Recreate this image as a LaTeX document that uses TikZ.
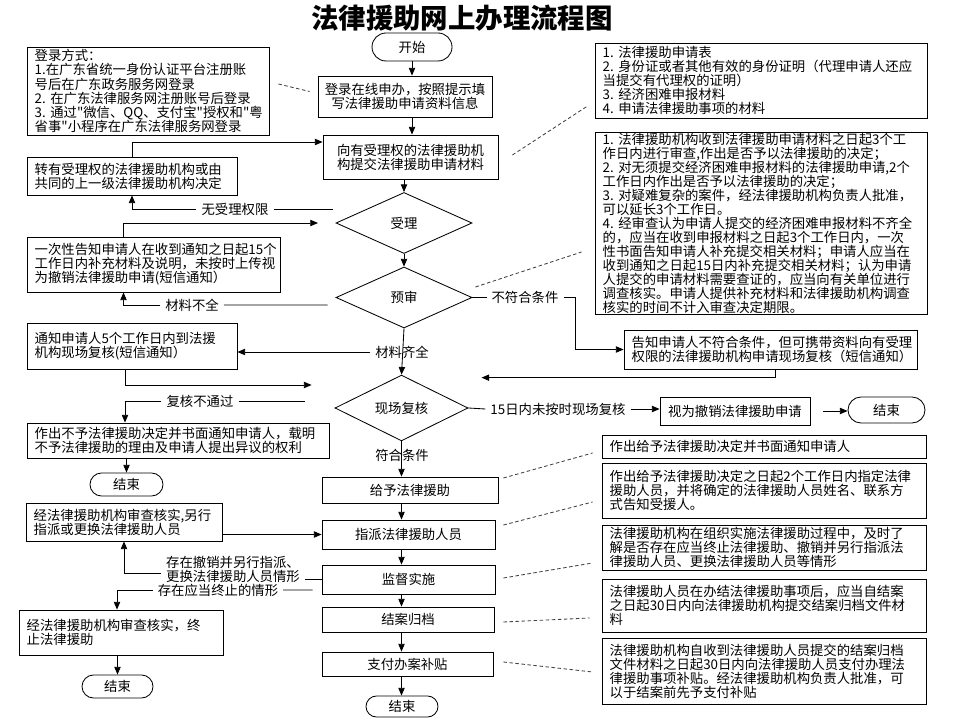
\documentclass[tikz,border=0pt]{standalone}
\usepackage{fontspec}
\setmainfont{Noto Sans CJK SC}[Ligatures=TeXOff]
\usetikzlibrary{arrows.meta,shapes.geometric,shapes.misc,calc}
\newcommand\pxu{0.025cm}
\newcommand\bodysize{\fontsize{9.5pt}{10pt}\selectfont}
\begin{document}
\begin{tikzpicture}[x=0.025cm,y=-0.025cm,line width=0.6pt,font=\bodysize,
  lbox/.style 2 args={draw,align=left,inner xsep=5.5pt,inner ysep=0pt,text width={#1*\pxu-11pt},minimum width={#1*\pxu},minimum height={#2*\pxu}},
  cbox/.style 2 args={draw,align=center,inner sep=0pt,minimum width={#1*\pxu},minimum height={#2*\pxu}},
  oval/.style 2 args={draw,rounded rectangle,inner sep=0pt,minimum width={#1*\pxu},minimum height={#2*\pxu}},
  dia/.style 2 args={draw,diamond,inner sep=0pt,minimum width={#1*\pxu},minimum height={#2*\pxu}},
  arr/.style={-{Triangle[length=5.5pt,width=4.5pt]}},
  dsh/.style={dash pattern=on 2.5pt off 1.8pt,black!75}]
\useasboundingbox (0,0) rectangle (960,720);
\node[font=\fontsize{19.5pt}{20pt}\selectfont\bfseries] (title) at (462,18) {法律援助网上办理流程图};
\node[oval={80}{28}] (ks) at (412,47) {开始};
\node[cbox={174}{41}] (dl) at (405,96.5) {登录在线申办，按照提示填\\写法律援助申请资料信息};
\node[cbox={175}{44}] (tj) at (410.5,157) {向有受理权的法律援助机\\构提交法律援助申请材料};
\node[dia={136}{61}] (sl) at (404,223) {受理};
\node[dia={136}{61}] (ys) at (404,297.5) {预审};
\node[dia={133}{60}] (fh) at (401.5,408) {现场复核};
\node[cbox={176}{26}] (gy) at (410,490) {给予法律援助};
\node[cbox={173}{29}] (zp) at (408.5,534.5) {指派法律援助人员};
\node[cbox={173}{29}] (jd) at (408.5,579.5) {监督实施};
\node[cbox={172}{25}] (ja) at (408,619.5) {结案归档};
\node[cbox={171}{24}] (zf) at (407.5,664) {支付办案补贴};
\node[oval={72}{21}] (js1) at (402,706.5) {结束};
\node[lbox={242}{88}] (dlfs) at (148,91) {登录方式：\\
1.在广东省统一身份认证平台注册账\\
号后在广东政务服务网登录\\
2.~在广东法律服务网注册账号后登录\\
3.~通过"微信、QQ、支付宝"授权和"粤\\
省事"小程序在广东法律服务网登录};
\node[lbox={210}{38}] (zy) at (132,176) {转有受理权的法律援助机构或由\\共同的上一级法律援助机构决定};
\node[lbox={253}{55}] (yc) at (153.5,264.5) {一次性告知申请人在收到通知之日起15个\\工作日内补充材料及说明，未按时上传视\\为撤销法律援助申请(短信通知）};
\node[lbox={210}{46}] (tz) at (132,346) {通知申请人5个工作日内到法援\\机构现场复核(短信通知）};
\node[lbox={302}{35}] (bz) at (178,440.5) {作出不予法律援助决定并书面通知申请人，载明\\不予法律援助的理由及申请人提出异议的权利};
\node[oval={73}{23}] (js2) at (126.5,484.5) {结束};
\node[lbox={196}{38}] (lx) at (124,522) {经法律援助机构审查核实,另行\\指派或更换法律援助人员};
\node[lbox={204}{45}] (zz) at (121,632.5) {经法律援助机构审查核实，终\\止法律援助};
\node[oval={71}{23}] (js3) at (117.5,686.5) {结束};
\node[lbox={332}{75}] (cl) at (761,80.5) {1.~法律援助申请表\\
2.~身份证或者其他有效的身份证明（代理申请人还应\\
当提交有代理权的证明）\\
3.~经济困难申报材料\\
4.~申请法律援助事项的材料};
\node[lbox={332}{181}] (sc) at (761,223.5) {1.~法律援助机构收到法律援助申请材料之日起3个工\\
作日内进行审查,作出是否予以法律援助的决定；\\
2.~对无须提交经济困难申报材料的法律援助申请,2个\\
工作日内作出是否予以法律援助的决定；\\
3.~对疑难复杂的案件，经法律援助机构负责人批准，\\
可以延长3个工作日。\\
4.~经审查认为申请人提交的经济困难申报材料不齐全\\
的，应当在收到申报材料之日起3个工作日内，一次\\
性书面告知申请人补充提交相关材料；申请人应当在\\
收到通知之日起15日内补充提交相关材料；认为申请\\
人提交的申请材料需要查证的，应当向有关单位进行\\
调查核实。申请人提供补充材料和法律援助机构调查\\
核实的时间不计入审查决定期限。};
\node[lbox={293}{39}] (bf) at (770.5,349.5) {告知申请人不符合条件，但可携带资料向有受理\\权限的法律援助机构申请现场复核（短信通知）};
\node[cbox={150}{28}] (cx) at (735,411) {视为撤销法律援助申请};
\node[oval={77}{26}] (js4) at (886.5,410) {结束};
\node[lbox={324}{23}] (sm1) at (764,446.5) {作出给予法律援助决定并书面通知申请人};
\node[lbox={324}{55}] (sm2) at (764,490.5) {作出给予法律援助决定之日起2个工作日内指定法律\\援助人员，并将确定的法律援助人员姓名、联系方\\式告知受援人。};
\node[lbox={324}{45}] (sm3) at (764,547.5) {法律援助机构在组织实施法律援助过程中，及时了\\解是否存在应当终止法律援助、撤销并另行指派法\\律援助人员、更换法律援助人员等情形};
\node[lbox={324}{53}] (sm4) at (764,605.5) {法律援助人员在办结法律援助事项后，应当自结案\\之日起30日内向法律援助机构提交结案归档文件材\\料};
\node[lbox={324}{66}] (sm5) at (764,671) {法律援助机构自收到法律援助人员提交的结案归档\\文件材料之日起30日内向法律援助人员支付办理法\\律援助事项补贴。经法律援助机构负责人批准，可\\以于结案前先予支付补贴};
\node (clqq) at (402,352) {材料齐全};
\node (fhtj) at (402,455) {符合条件};
\node (wsl) at (235,209) {无受理权限};
\node (clbq) at (192,305) {材料不全};
\node (bfh) at (525,297.5) {不符合条件};
\node (fhbtg) at (200,401) {复核不通过};
\node (wfh) at (558,409) {15日内未按时现场复核};
\node[align=left] (cxqx) at (233,569.5) {存在撤销并另行指派、\\更换法律援助人员情形};
\node (zzqx) at (218,590) {存在应当终止的情形};
\draw[arr] (ks.south) -- (ks.south |- dl.north);
\draw[arr] (ks.south |- dl.south) -- (ks.south |- tj.north);
\draw[arr] (sl.north |- tj.south) -- (sl.north);
\draw[arr] (sl.south) -- (ys.north);
\draw[arr] (ys.south) -- (fh.north);
\draw[arr] (fh.south) -- (fh.south |- gy.north);
\draw[arr] (fh.south |- gy.south) -- (fh.south |- zp.north);
\draw[arr] (fh.south |- zp.south) -- (fh.south |- jd.north);
\draw[arr] (fh.south |- jd.south) -- (fh.south |- ja.north);
\draw[arr] (fh.south |- ja.south) -- (fh.south |- zf.north);
\draw[arr] (fh.south |- zf.south) -- (fh.south |- js1.north);
\draw[arr] (zy.north) |- ($(tj.west)+(0,-15)$);
\draw ($(sl.west)+(-3,-14)$) -- (wsl.east);
\draw[arr] (wsl.west) -| (zy.south);
\draw[arr,shorten >=12.5pt] ($(yc.north)+(-30,0)$) |- (sl.west);
\draw ($(ys.west)+(-8,7.5)$) -- (clbq.east);
\draw[arr] (clbq.west) -| ($(yc.south)+(-30,0)$);
\draw[arr] (clqq.west) -- (clqq.west -| tz.east);
\draw[arr] ($(tz.south)+(-7,0)$) |- ($(fh.west)+(-23,-23)$);
\draw ($(fh.west)+(-30,-7)$) -- (fhbtg.east);
\draw[arr] (fhbtg.west) -| ($(bz.north)+(-53,0)$);
\draw[arr] (js2.north |- bz.south) -- (js2.north);
\draw (ys.east) -- (bfh.west);
\draw[arr] (bfh.east) -- ++(12,0) |- (bf.west);
\draw[arr] ($(bf.south)+(4.5,0)$) |- ($(fh.north)+(80,3)$);
\draw (fh.east) -- (wfh.west);
\draw[arr] (wfh.east) -- (wfh.east -| cx.west);
\draw[arr,shorten <=9pt] (cx.east) -- (cx.east -| js4.west);
\draw[arr] (lx.east |- zp.west) -- (zp.west);
\draw (jd.west) -- (cxqx.east |- jd.west);
\draw[arr] ($(cxqx.west)+(0,3.5)$) -| (lx.south);
\draw ($(jd.west)+(-9,10.5)$) -- (zzqx.east);
\draw[arr] (zzqx.west) -| ($(zz.north)+(-4,0)$);
\draw[arr] (js3.north |- zz.south) -- (js3.north);
\draw[dsh] ($(dlfs.east)+(9,-7)$) -- ($(dl.west)+(-8,-5)$);
\draw[dsh] ($(tj.east)+(14,-2)$) -- ($(cl.west)+(-7,25.5)$);
\draw[dsh] ($(ys.east)+(3,-10.5)$) -- ($(sc.west)+(-13,28.5)$);
\draw[dsh] ($(gy.east)+(5,-12)$) -- ($(sm1.west)+(-9,6.5)$);
\draw[dsh] ($(zp.east)+(8,-9.5)$) -- ($(sm2.west)+(-9,11.5)$);
\draw[dsh] ($(jd.east)+(8,-1.5)$) -- ($(sm3.west)+(-9,15.5)$);
\draw[dsh] ($(ja.east)+(9,2.5)$) -- ($(sm4.west)+(-12,12.5)$);
\draw[dsh] ($(zf.east)+(10,-2)$) -- ($(sm5.west)+(-9,1)$);
\end{tikzpicture}
\end{document}
